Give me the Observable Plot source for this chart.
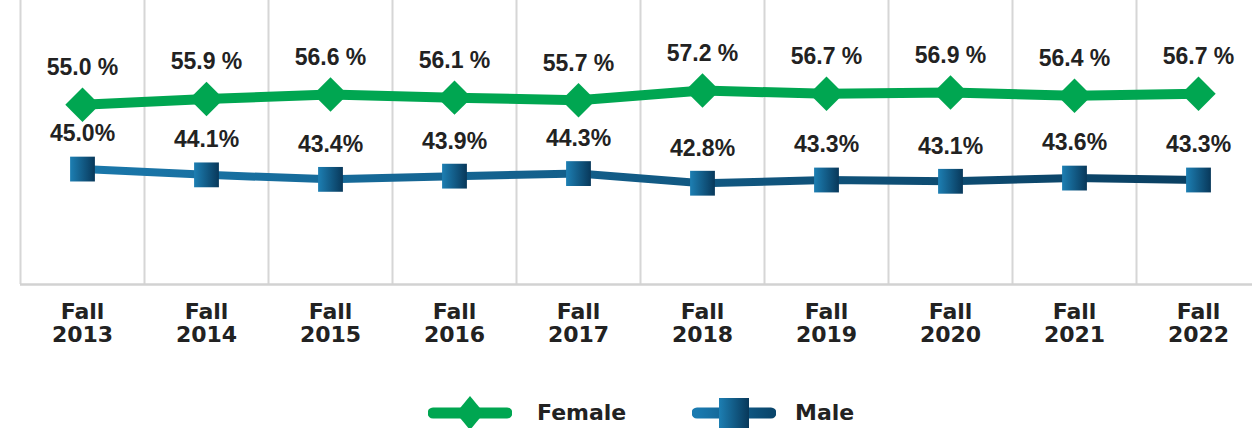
<!DOCTYPE html>
<html>
<head>
<meta charset="utf-8">
<script src="https://cdn.jsdelivr.net/npm/d3@7"></script>
<script src="https://cdn.jsdelivr.net/npm/@observablehq/plot@0.6"></script>
<style>
  html, body { margin: 0; padding: 0; background: #fff; }
  #legend { position: relative; height: 34px; margin-top: 16px; font: bold 22px "DejaVu Sans", sans-serif; color: #222; }
  #legend > * { position: absolute; top: 0; }
  #legend span { line-height: 34px; }
</style>
</head>
<body>
<div id="chart"></div>
<div id="legend"></div>
<script>
const terms = ["Fall 2013", "Fall 2014", "Fall 2015", "Fall 2016", "Fall 2017", "Fall 2018", "Fall 2019", "Fall 2020", "Fall 2021", "Fall 2022"];
const female = [55.0, 55.9, 56.6, 56.1, 55.7, 57.2, 56.7, 56.9, 56.4, 56.7];
const male = [45.0, 44.1, 43.4, 43.9, 44.3, 42.8, 43.3, 43.1, 43.6, 43.3];

const femaleData = terms.map((t, i) => ({term: t, value: female[i]}));
const maleData = terms.map((t, i) => ({term: t, value: male[i]}));

const GREEN = "#00a651";

const defs = () => {
  const d = d3.create("svg:defs");
  const g1 = d.append("linearGradient").attr("id", "maleLine").attr("x1", 0).attr("x2", 1).attr("y1", 0).attr("y2", 0);
  g1.append("stop").attr("offset", "0%").attr("stop-color", "#1a77aa");
  g1.append("stop").attr("offset", "100%").attr("stop-color", "#0a3f61");
  const g2 = d.append("linearGradient").attr("id", "maleSq").attr("x1", 0).attr("x2", 1).attr("y1", 0).attr("y2", 0);
  g2.append("stop").attr("offset", "0%").attr("stop-color", "#1d7fb3");
  g2.append("stop").attr("offset", "100%").attr("stop-color", "#08385a");
  return d.node();
};

const chart = Plot.plot({
  width: 1252,
  height: 380,
  marginLeft: 20,
  marginRight: -8,
  marginTop: 0,
  marginBottom: 96,
  style: {fontFamily: "DejaVu Sans", fontSize: "22px", fontWeight: "bold", color: "#222", background: "#fff"},
  x: {type: "band", domain: terms, padding: 0, label: null},
  y: {domain: [27.06, 71.2], axis: null},
  marks: [
    defs,
    Plot.ruleX(terms, {x: d => d, dx: -62, stroke: "#d6d6d6", strokeWidth: 2}),
    Plot.ruleY([27.06], {stroke: "#d2d2d2", strokeWidth: 2.5}),
    Plot.axisX({tickSize: 0, tickPadding: 18, tickFormat: d => d.replace(" ", "\n"), lineHeight: 1.05, fill: "#222", fontSize: 22, fontWeight: "bold", label: null}),
    Plot.line(femaleData, {x: "term", y: "value", stroke: GREEN, strokeWidth: 10, strokeLinejoin: "round"}),
    Plot.line(maleData, {x: "term", y: "value", stroke: "url(#maleLine)", strokeWidth: 8, strokeLinejoin: "round"}),
    Plot.dot(femaleData, {x: "term", y: "value", symbol: "diamond2", r: 15.5, fill: GREEN, stroke: "none"}),
    Plot.dot(maleData, {x: "term", y: "value", symbol: "square", r: 14, fill: "url(#maleSq)", stroke: "none"}),
    Plot.text(femaleData, {x: "term", y: "value", text: d => `${d.value.toFixed(1)} %`, dy: -37, fontFamily: "Liberation Sans", fontSize: 23, fontWeight: "bold", fill: "#222"}),
    Plot.text(maleData, {x: "term", y: "value", text: d => `${d.value.toFixed(1)}%`, dy: -35, fontFamily: "Liberation Sans", fontSize: 23, fontWeight: "bold", fill: "#222"})
  ]
});
document.getElementById("chart").appendChild(chart);

// Legend
const legend = d3.select("#legend");
function swatch(left, kind) {
  const s = legend.append("svg").attr("width", 84).attr("height", 34).style("left", left + "px");
  if (kind === "female") {
    s.append("line").attr("x1", 5).attr("x2", 79).attr("y1", 17).attr("y2", 17)
      .attr("stroke", GREEN).attr("stroke-width", 11).attr("stroke-linecap", "round");
    s.append("path").attr("d", "M42,0L56,17L42,34L28,17Z").attr("fill", GREEN);
  } else {
    const g = s.append("defs").append("linearGradient").attr("id", "legLine");
    g.append("stop").attr("offset", "0%").attr("stop-color", "#1a7ab0");
    g.append("stop").attr("offset", "100%").attr("stop-color", "#0a466c");
    s.append("line").attr("x1", 5).attr("x2", 79).attr("y1", 17).attr("y2", 17.01)
      .attr("stroke", "url(#legLine)").attr("stroke-width", 11).attr("stroke-linecap", "round");
    s.append("rect").attr("x", 27).attr("y", 2).attr("width", 30).attr("height", 30).attr("fill", "url(#maleSq)");
  }
}
swatch(428, "female");
legend.append("span").style("left", "537px").text("Female");
swatch(692, "male");
legend.append("span").style("left", "795px").text("Male");
</script>
</body>
</html>
